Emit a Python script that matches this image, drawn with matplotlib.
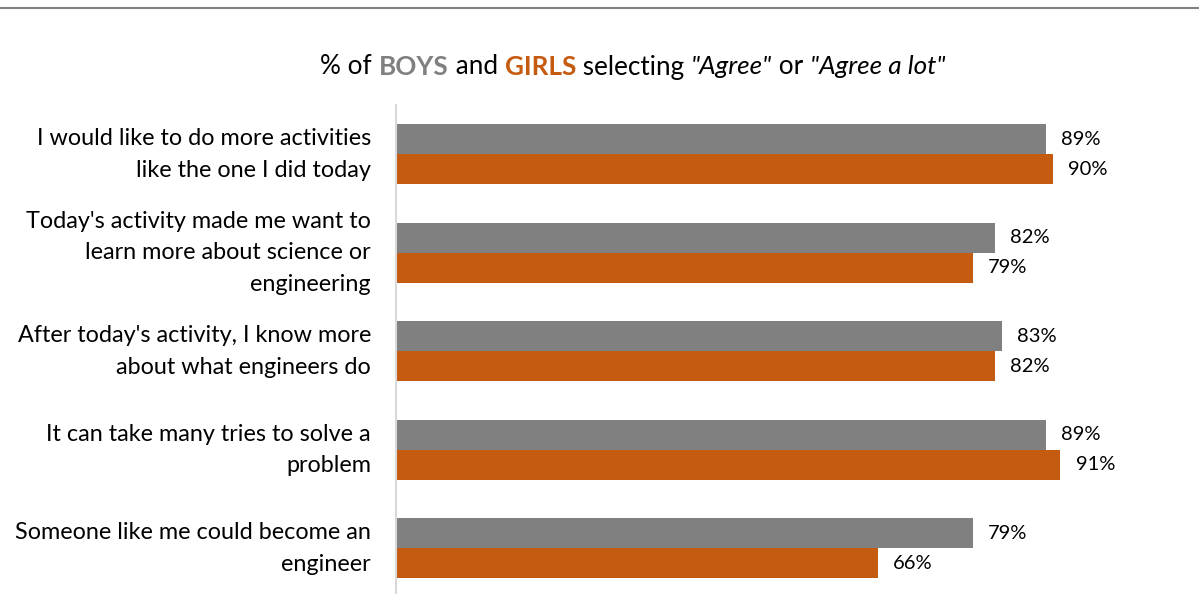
import matplotlib
matplotlib.use("Agg")
import matplotlib.pyplot as plt
from matplotlib.lines import Line2D

categories = [
    "I would like to do more activities\nlike the one I did today",
    "Today's activity made me want to\nlearn more about science or\nengineering",
    "After today's activity, I know more\nabout what engineers do",
    "It can take many tries to solve a\nproblem",
    "Someone like me could become an\nengineer",
]
boys = [89, 82, 83, 89, 79]
girls = [90, 79, 82, 91, 66]

GRAY = "#808080"
ORANGE = "#C55A11"
FONT = "Lato"
plt.rcParams['font.family'] = [FONT, 'DejaVu Sans']

W, H = 1199, 594
fig = plt.figure(figsize=(W / 100, H / 100), dpi=100)
ax = fig.add_axes([396 / W, 0, 730 / W, (594 - 105) / H])

bh = 30 / 98.5
ypos = list(range(len(categories)))
ax.barh([y - bh / 2 for y in ypos], boys, height=bh, color=GRAY, linewidth=0)
ax.barh([y + bh / 2 for y in ypos], girls, height=bh, color=ORANGE, linewidth=0)

for y, b, g in zip(ypos, boys, girls):
    ax.annotate(f"{b}%", (b, y - bh / 2), xytext=(11, 0), textcoords="offset points",
                ha="left", va="center", fontsize=14.5, color="#000000")
    ax.annotate(f"{g}%", (g, y + bh / 2), xytext=(11, 0), textcoords="offset points",
                ha="left", va="center", fontsize=14.5, color="#000000")

ax.set_xlim(0, 100)
ax.set_ylim(4.464, -0.5)
ax.set_yticks(ypos)
ax.set_yticklabels(categories, fontsize=16.8, linespacing=1.62, ha="right", va="center")
ax.tick_params(axis="y", length=0, pad=18)
ax.set_xticks([])
for s in ["top", "right", "bottom"]:
    ax.spines[s].set_visible(False)
ax.spines["left"].set_color("#d9d9d9")
ax.spines["left"].set_linewidth(1.5)

# top border line
fig.add_artist(Line2D([0, 1], [1 - 8 / H, 1 - 8 / H], transform=fig.transFigure,
                      color="#808080", linewidth=1.5))

# multi-style title
pieces = [
    ("% of ", "#000000", "normal", "normal"),
    ("BOYS", GRAY, "bold", "normal"),
    (" and ", "#000000", "normal", "normal"),
    ("GIRLS", ORANGE, "bold", "normal"),
    (" selecting ", "#000000", "normal", "normal"),
    ("\"Agree\"", "#000000", "normal", "italic"),
    (" or ", "#000000", "normal", "normal"),
    ("\"Agree a lot\"", "#000000", "normal", "italic"),
]
tsize = 18.8
renderer = fig.canvas.get_renderer()

def width_of(s, weight, style):
    t = fig.text(0, 0, s.replace(" ", "\u00a0"), fontsize=tsize, fontweight=weight, fontstyle=style)
    w = t.get_window_extent(renderer).width
    t.remove()
    return w

widths = [width_of(s, w, st) for s, c, w, st in pieces]
total = sum(widths)
x = 633 - total / 2
ty = 1 - 67 / H
for (s, c, w, st), wd in zip(pieces, widths):
    fig.text(x / W, ty, s.replace(" ", "\u00a0"), fontsize=tsize, fontweight=w, fontstyle=st,
             color=c, ha="left", va="center")
    x += wd

fig.savefig("out.png", dpi=100)
